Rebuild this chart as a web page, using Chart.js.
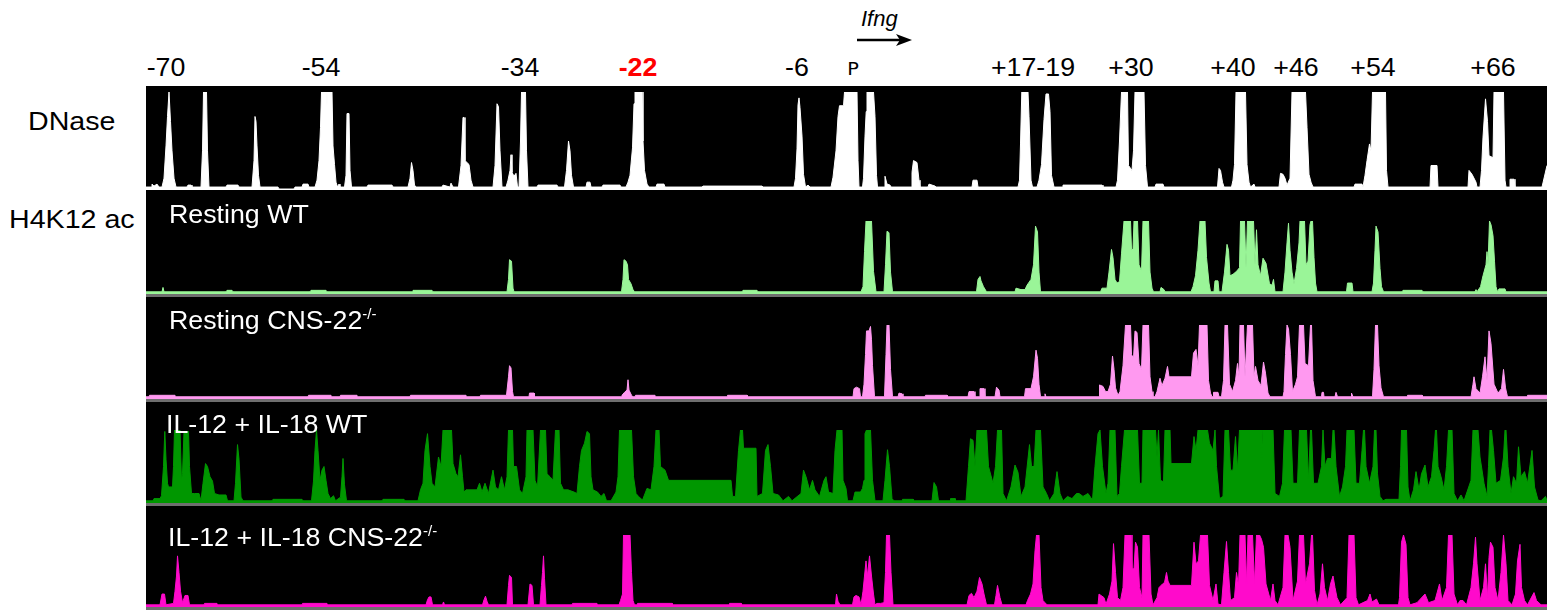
<!DOCTYPE html>
<html>
<head>
<meta charset="utf-8">
<script src="https://cdn.jsdelivr.net/npm/chart.js@4.4.1/dist/chart.umd.min.js"></script>
<style>
  html, body { margin: 0; padding: 0; background: #fff; }
  body { width: 1547px; height: 610px; position: relative; overflow: hidden;
         font-family: "Liberation Sans", Arial, Helvetica, sans-serif; }
  #panel { position: absolute; left: 146px; top: 86px; width: 1401px; height: 524px; background: #000; }
  canvas { position: absolute; left: 146px; }
  .sep { position: absolute; left: 146px; width: 1401px; height: 3px; background: #6e6e6e; }
  .txt { position: absolute; white-space: nowrap; line-height: 1; }
  .el { font-size: 25px; color: #000; transform: translateX(-50%) scaleX(1.07); top: 55px; }
  .trk { font-size: 25px; color: #fff; transform: scaleX(1.07); transform-origin: left center; }
  .side { font-size: 26px; color: #000; transform: scaleX(1.1); transform-origin: left center; }
  sup { font-size: 14px; vertical-align: 10px; line-height: 0; }
</style>
</head>
<body>
<div id="panel"></div>
<canvas id="c-dnase" width="1401" height="98" style="top:92px"></canvas>
<canvas id="c-rwt" width="1401" height="73" style="top:221px"></canvas>
<div class="sep" style="top:294px"></div>
<canvas id="c-rcns" width="1401" height="74" style="top:325px"></canvas>
<div class="sep" style="top:399px"></div>
<canvas id="c-ilwt" width="1401" height="73" style="top:430px"></canvas>
<div class="sep" style="top:503px"></div>
<canvas id="c-ilcns" width="1401" height="72" style="top:535px"></canvas>
<div class="sep" style="top:607px"></div>

<div class="txt side" style="left:28px;top:108px">DNase</div>
<div class="txt side" style="left:9px;top:206px">H4K12 ac</div>
<div class="txt trk" style="left:169px;top:202px">Resting WT</div>
<div class="txt trk" style="left:169px;top:308px">Resting CNS-22<sup>-/-</sup></div>
<div class="txt trk" style="left:166px;top:412px">IL-12 + IL-18 WT</div>
<div class="txt trk" style="left:168px;top:525px">IL-12 + IL-18 CNS-22<sup>-/-</sup></div>

<div class="txt" style="left:861px;top:8px;font-size:22px;font-style:italic">Ifng</div>
<svg style="position:absolute;left:856px;top:33px" width="58" height="14">
  <line x1="1" y1="7" x2="46" y2="7" stroke="#000" stroke-width="2.5"/>
  <polygon points="40,1 56,7 40,13 44,7" fill="#000"/>
</svg>

<script>
// genomic position (kb from Ifng promoter), signal 0..100 (100 = track ceiling)
const dnaseTrack = [
  [-70.6,3],[-70.1,3],[-70.0,6],[-69.8,4],[-69.5,6],[-69.3,3],
  [-69.0,3],[-68.8,12],[-68.6,45],[-68.45,75],[-68.3,100],[-68.15,70],[-68.0,40],[-67.8,12],[-67.6,3],
  [-66.5,3],[-66.4,5],[-66.1,5],[-66.0,3],
  [-65.1,3],[-64.95,40],[-64.85,100],[-64.55,100],[-64.45,40],[-64.3,3],
  [-62.6,3],[-62.5,5],[-61.4,5],[-61.3,3],
  [-60.0,3],[-59.8,30],[-59.7,75],[-59.6,70],[-59.5,45],[-59.35,15],[-59.2,3],
  [-57.4,3],[-57.3,1],[-55.8,1],[-55.7,3],
  [-55.0,3],[-54.9,6],[-54.4,6],[-54.3,3],
  [-53.7,3],[-53.5,10],[-53.3,30],[-53.15,64],[-53.05,100],[-52.55,100],[-52.5,85],[-52.45,100],[-52.0,100],[-51.9,45],[-51.75,26],[-51.6,8],[-51.45,3],[-51.3,6],[-51.2,3],
  [-50.75,3],[-50.6,15],[-50.5,78],[-50.3,78],[-50.2,20],[-50.05,3],
  [-48.5,3],[-48.4,5],[-46.0,5],[-45.9,3],
  [-44.4,3],[-44.2,12],[-44.05,28],[-43.9,20],[-43.75,5],[-43.6,3],
  [-41.0,3],[-40.9,5],[-40.2,3],[-40.1,7],[-39.9,3],
  [-39.35,3],[-39.1,25],[-38.9,74],[-38.8,74],[-38.7,30],[-38.3,26],[-38.1,10],[-37.9,3],
  [-35.9,3],[-35.7,25],[-35.5,88],[-35.35,85],[-35.2,40],[-35.0,3],
  [-34.6,3],[-34.4,10],[-34.2,20],[-34.1,36],[-34.0,18],[-33.8,14],[-33.6,17],[-33.45,3],
  [-33.3,3],[-33.15,50],[-33.05,100],[-32.65,100],[-32.55,40],[-32.4,3],
  [-31.5,3],[-31.4,5],[-29.5,5],[-29.4,3],
  [-28.75,3],[-28.55,20],[-28.35,50],[-28.2,40],[-28.05,15],[-27.85,3],
  [-26.6,3],[-26.5,8],[-26.2,8],[-26.1,3],
  [-25.0,3],[-24.9,5],[-23.2,5],[-23.1,3],
  [-22.6,3],[-22.4,8],[-22.2,15],[-21.95,43],[-21.8,88],[-21.7,100],[-21.0,100],[-20.9,50],[-20.75,20],[-20.5,6],[-20.3,3],
  [-19.6,3],[-19.5,6],[-18.8,6],[-18.7,3],
  [-15.0,3],[-14.9,4],[-9.0,4],[-8.9,3],
  [-5.8,3],[-5.65,12],[-5.5,42],[-5.4,87],[-5.3,94],[-5.2,84],[-5.0,55],[-4.85,16],[-4.65,3],[-4.4,5],[-4.2,3],
  [-2.1,3],[-1.9,13],[-1.6,40],[-1.4,75],[-1.25,86],[-0.85,86],[-0.75,100],[0.5,100],[0.6,30],[0.7,3],
  [1.05,3],[1.15,12],[1.3,55],[1.42,80],[1.5,100],[2.15,100],[2.3,75],[2.45,15],[2.55,3],
  [3.2,3],[3.3,14],[3.5,6],[3.8,5],[3.9,3],
  [5.9,3],[6.0,18],[6.15,30],[6.5,28],[6.7,10],[6.8,3],
  [7.6,3],[7.7,6],[8.3,4],[8.4,3],
  [12.0,3],[12.1,10],[12.5,10],[12.6,3],
  [16.6,3],[16.75,10],[16.85,47],[16.98,100],[17.6,100],[17.7,75],[17.9,10],[18.05,3],
  [18.5,3],[18.7,10],[18.95,26],[19.2,72],[19.4,98],[19.65,98],[19.8,80],[19.95,15],[20.2,3],
  [21.0,3],[21.1,5],[25.0,5],[25.1,3],
  [26.4,3],[26.55,10],[26.75,50],[26.95,100],[27.55,100],[27.65,25],[28.0,20],[28.15,40],[28.3,100],[29.2,100],[29.35,25],[29.55,3],
  [30.3,3],[30.4,6],[31.1,6],[31.2,3],
  [36.55,3],[36.7,22],[36.85,20],[37.05,8],[37.2,3],
  [37.95,3],[38.1,10],[38.25,26],[38.4,100],[39.35,100],[39.5,26],[39.7,8],[39.85,3],[40.2,6],[40.3,3],
  [42.7,3],[42.85,17],[43.1,16],[43.3,12],[43.5,5],[43.6,5],[43.8,12],[44.0,100],[45.35,100],[45.5,64],[45.7,16],[45.9,8],[46.1,3],
  [50.2,3],[50.3,6],[51.0,6],[51.1,3],[51.3,15],[51.5,30],[51.75,47],[51.9,40],[52.05,100],[53.35,100],[53.45,20],[53.6,3],
  [57.8,3],[57.9,25],[58.5,25],[58.6,3],
  [61.6,3],[61.7,20],[62.0,16],[62.4,8],[62.5,3],
  [62.8,3],[62.95,20],[63.1,54],[63.35,93],[63.55,70],[63.7,35],[64.1,33],[64.2,100],[65.15,100],[65.3,10],[65.4,3],
  [65.75,3],[65.8,11],[66.2,11],[66.3,3],
  [69.0,3],[69.5,25]
];

const restingWt = [
  [-70.6,3],[-69.0,3],[-68.9,9],[-68.8,3],
  [-62.6,3],[-62.5,5],[-62.0,5],[-61.9,3],
  [-54.2,3],[-54.1,5],[-52.6,5],[-52.5,3],
  [-44.0,3],[-43.9,5],[-42.0,5],[-41.9,3],
  [-34.5,3],[-34.35,20],[-34.25,47],[-34.05,45],[-33.9,8],[-33.8,3],
  [-23.05,3],[-22.9,20],[-22.8,47],[-22.6,45],[-22.45,40],[-22.35,20],[-22.1,14],[-21.9,6],[-21.75,3],
  [-11.0,3],[-10.9,5],[-9.5,5],[-9.4,3],
  [0.9,3],[1.1,10],[1.25,58],[1.4,100],[1.95,100],[2.15,31],[2.4,3],
  [3.2,3],[3.35,40],[3.5,86],[3.7,84],[3.85,30],[4.05,3],
  [12.45,3],[12.6,20],[12.8,24],[12.9,18],[13.15,10],[13.45,3],
  [16.3,3],[16.4,8],[16.9,6],[17.3,6],[17.5,12],[17.9,20],[18.15,40],[18.35,93],[18.55,85],[18.7,30],[18.85,3],
  [24.85,3],[25.0,8],[25.5,8],[25.7,30],[25.95,61],[26.1,50],[26.3,20],[26.5,15],[26.75,17],[26.95,55],[27.2,100],[27.85,100],[27.95,61],[28.1,61],[28.2,100],[28.55,100],[28.7,40],[28.95,31],[29.1,100],[29.65,100],[29.8,30],[30.0,8],[30.15,3],
  [30.8,3],[30.9,9],[31.2,6],[31.3,3],
  [33.9,3],[34.1,10],[34.35,25],[34.6,60],[34.8,100],[35.3,100],[35.45,50],[35.7,15],[35.85,3],[36.2,3],[36.3,18],[36.6,18],[36.7,3],
  [37.0,3],[37.25,30],[37.5,68],[37.65,60],[37.8,25],[38.1,27],[38.45,31],[38.75,36],[38.85,100],[39.25,100],[39.4,36],[39.55,100],[40.15,100],[40.3,40],[40.45,88],[40.6,40],[40.85,25],[41.1,49],[41.4,42],[41.75,14],[42.0,12],[42.15,20],[42.3,3],
  [43.1,3],[43.3,30],[43.5,70],[43.65,97],[43.8,60],[44.0,30],[44.2,14],[44.45,35],[44.7,70],[44.8,100],[45.25,100],[45.4,40],[45.6,45],[45.8,95],[45.9,100],[46.05,100],[46.2,50],[46.35,15],[46.5,3],
  [49.45,3],[49.55,15],[50.0,15],[50.1,3],
  [52.0,3],[52.15,15],[52.3,60],[52.4,93],[52.6,85],[52.8,35],[52.95,10],[53.15,3],
  [55.0,3],[55.1,5],[57.0,5],[57.1,3],
  [62.3,3],[62.4,6],[62.5,3],[62.85,10],[63.1,25],[63.4,40],[63.5,58],[63.6,40],[63.75,100],[63.9,95],[64.1,80],[64.25,45],[64.4,10],[64.55,3],[64.7,7],[65.3,7],[65.4,3],
  [69.5,3]
];

const restingCns = [
  [-70.6,3],[-70.3,3],[-70.25,5],[-67.7,5],[-67.65,3],
  [-54.4,3],[-54.35,5],[-52.1,5],[-52.05,3],
  [-51.2,3],[-51.15,5],[-49.5,5],[-49.45,3],
  [-44.2,3],[-44.15,5],[-38.6,5],[-38.55,3],
  [-37.2,3],[-37.15,5],[-34.55,5],[-34.35,30],[-34.25,45],[-34.1,42],[-33.95,10],[-33.85,3],
  [-32.3,3],[-32.25,8],[-31.8,8],[-31.75,3],
  [-23.1,3],[-23.0,5],[-22.75,9],[-22.5,12],[-22.4,26],[-22.3,12],[-22.05,5],[-21.9,3],
  [-21.7,3],[-21.65,5],[-19.7,5],[-19.65,3],
  [-12.5,3],[-12.45,5],[-10.5,5],[-10.45,3],
  [0.1,3],[0.2,14],[0.45,16],[0.75,14],[0.85,3],
  [1.05,3],[1.2,20],[1.35,60],[1.45,92],[1.7,92],[1.85,98],[1.95,80],[2.05,45],[2.25,3],
  [3.25,3],[3.4,60],[3.5,100],[3.7,100],[3.85,40],[4.05,3],
  [4.6,3],[4.7,8],[5.0,7],[5.1,3],
  [7.3,3],[7.35,5],[9.5,5],[9.55,3],
  [11.6,3],[11.7,10],[12.2,10],[12.3,3],
  [12.7,3],[12.8,14],[13.2,14],[13.3,3],
  [14.3,3],[14.45,16],[14.7,12],[14.8,3],
  [17.25,3],[17.35,14],[17.9,14],[18.15,30],[18.4,66],[18.55,55],[18.7,20],[18.85,3],
  [19.2,3],[19.3,7],[19.4,3],
  [24.7,3],[24.75,19],[25.1,17],[25.35,10],[25.6,10],[25.85,20],[26.05,58],[26.2,40],[26.35,15],[26.6,5],[26.8,10],[27.1,45],[27.35,100],[27.85,100],[27.95,60],[28.15,55],[28.3,92],[28.5,90],[28.7,48],[28.95,40],[29.1,100],[29.65,100],[29.8,30],[30.0,10],[30.1,3],
  [30.3,3],[30.5,10],[30.8,28],[31.0,18],[31.3,28],[31.55,44],[31.7,30],[33.95,30],[34.15,62],[34.4,67],[34.6,45],[34.75,100],[35.5,100],[35.65,25],[35.85,8],[36.0,3],
  [36.1,3],[36.15,9],[36.6,9],[36.7,3],
  [36.95,3],[37.15,25],[37.3,100],[37.55,100],[37.75,20],[38.05,10],[38.35,25],[38.55,48],[38.7,30],[38.8,100],[39.15,100],[39.3,30],[39.55,100],[40.05,100],[40.2,30],[40.35,44],[40.6,25],[40.9,18],[41.15,50],[41.35,35],[41.6,8],[41.8,3],
  [43.1,3],[43.2,10],[43.35,60],[43.5,100],[43.65,95],[43.85,60],[44.05,10],[44.35,20],[44.55,30],[44.75,100],[45.15,100],[45.3,48],[45.65,45],[45.85,100],[45.95,100],[46.1,25],[46.35,3],
  [46.95,3],[47.0,9],[47.15,9],[47.2,3],[48.3,3],[48.4,9],[48.55,3],[49.9,3],[49.95,8],[50.1,3],
  [52.05,3],[52.2,40],[52.35,100],[52.55,100],[52.7,45],[52.9,15],[53.15,3],
  [55.5,3],[55.55,5],[57.0,5],[57.05,3],
  [61.9,3],[62.1,20],[62.2,30],[62.4,14],[62.8,8],[63.05,30],[63.3,57],[63.5,25],[63.7,92],[63.9,75],[64.2,20],[64.6,8],[64.95,14],[65.15,40],[65.35,15],[65.55,3],
  [67.5,3],[67.55,5],[69.5,5]
];

const il12Wt = [
  [-70.6,3],[-69.9,3],[-69.8,6],[-69.2,6],[-69.05,10],[-68.85,50],[-68.72,98],[-68.6,60],[-68.45,27],[-68.35,22],[-67.95,22],[-67.85,50],[-67.75,100],[-67.2,100],[-67.05,31],[-66.95,40],[-66.8,98],[-66.35,98],[-66.25,50],[-66.05,13],[-65.75,13],[-65.3,13],[-65.1,3],
  [-64.9,27],[-64.65,54],[-64.45,50],[-64.2,36],[-63.95,30],[-63.75,13],[-63.3,11],[-62.6,11],[-62.45,3],
  [-61.8,3],[-61.65,27],[-61.45,80],[-61.3,60],[-61.1,8],[-60.9,3],
  [-58.0,3],[-57.9,5],[-55.0,5],[-54.9,3],
  [-54.05,3],[-53.85,30],[-53.7,72],[-53.55,100],[-53.4,72],[-53.2,31],[-53.0,45],[-52.8,50],[-52.6,31],[-52.4,13],[-52.15,6],[-51.85,10],[-51.65,3],
  [-51.15,8],[-51.0,36],[-50.9,61],[-50.75,25],[-50.55,3],
  [-47.0,3],[-46.9,5],[-44.8,5],[-44.7,3],
  [-43.4,3],[-43.15,18],[-42.9,27],[-42.7,72],[-42.45,95],[-42.2,50],[-42.0,27],[-41.7,22],[-41.35,63],[-41.1,50],[-40.9,100],[-40.05,100],[-39.9,54],[-39.6,40],[-39.4,36],[-39.15,66],[-38.95,36],[-38.8,15],[-38.6,18],[-37.5,18],[-37.25,27],[-37.0,15],[-36.7,27],[-36.35,13],[-36.1,31],[-35.9,45],[-35.65,22],[-35.35,18],[-35.05,36],[-34.75,18],[-34.5,36],[-34.35,100],[-33.95,100],[-33.85,50],[-33.55,50],[-33.25,18],[-32.95,13],[-32.6,36],[-32.5,100],[-31.9,100],[-31.7,31],[-31.45,22],[-31.15,100],[-30.65,100],[-30.5,40],[-30.2,36],[-29.9,31],[-29.65,100],[-29.3,100],[-29.15,27],[-28.85,18],[-28.4,18],[-27.8,15],[-27.5,13],[-27.25,50],[-27.05,72],[-26.75,82],[-26.5,98],[-26.25,95],[-26.1,36],[-25.9,18],[-25.45,15],[-25.1,9],[-24.8,13],[-24.55,3],
  [-24.1,3],[-23.6,15],[-23.4,36],[-23.25,100],[-22.05,100],[-21.85,36],[-21.6,13],[-21.35,9],[-20.95,4],[-20.5,20],[-20.1,18],[-19.8,50],[-19.6,100],[-19.3,100],[-19.15,50],[-18.7,45],[-18.35,31],[-18.2,31],[-12.1,31],[-11.95,9],[-11.65,9],[-11.35,72],[-11.15,100],[-10.95,100],[-10.85,75],[-9.6,75],[-9.5,9],[-8.95,13],[-8.65,72],[-8.4,80],[-8.15,50],[-7.9,13],[-7.35,11],[-6.9,3],[-6.35,9],[-6.0,3],
  [-5.1,13],[-4.85,45],[-4.6,36],[-4.25,18],[-3.95,31],[-3.7,18],[-3.25,9],[-2.8,31],[-2.6,36],[-2.35,15],[-1.9,13],[-1.7,72],[-1.5,100],[-1.0,100],[-0.9,31],[-0.6,20],[-0.45,3],
  [0.1,3],[0.3,15],[0.85,15],[1.05,20],[1.2,31],[1.3,95],[1.45,100],[1.85,100],[2.05,31],[2.3,3],[3.1,3],[3.3,31],[3.55,73],[3.75,50],[4.0,6],[4.2,3],[5.0,3],[5.05,5],[6.1,5],[6.15,3],
  [8.0,3],[8.2,28],[8.45,22],[8.65,3],[9.8,3],[9.85,6],[10.3,6],[10.35,3],
  [11.4,3],[11.65,50],[11.85,88],[12.1,86],[12.3,50],[12.5,100],[13.45,100],[13.65,50],[14.1,27],[14.35,50],[14.55,100],[14.95,100],[15.1,13],[15.45,3],[15.9,22],[16.3,52],[16.6,42],[16.9,9],[17.3,22],[17.75,80],[17.95,50],[18.2,50],[18.4,100],[18.85,100],[19.1,22],[19.45,13],[19.75,3],
  [20.2,13],[20.5,43],[20.8,13],[21.1,3],[21.55,9],[22.0,6],[22.45,13],[22.7,13],[23.1,9],[23.6,13],[24.05,4],
  [24.3,50],[24.6,95],[24.8,100],[25.05,50],[25.4,13],[25.6,27],[25.8,100],[26.3,100],[26.5,9],[26.75,13],[26.95,50],[27.25,100],[28.55,100],[28.75,27],[29.0,27],[29.1,100],[30.35,100],[30.5,63],[30.65,100],[30.85,31],[31.15,29],[31.3,100],[31.8,100],[31.9,54],[33.95,54],[34.2,91],[34.4,72],[34.6,100],[35.55,100],[35.75,82],[36.1,72],[36.3,100],[36.45,50],[36.75,6],[37.1,9],[37.3,100],[37.65,100],[37.85,45],[38.1,45],[38.35,91],[38.55,45],[38.75,100],[40.9,100],[40.95,60],[41.05,100],[42.1,100],[42.3,13],[42.75,9],
  [43.05,27],[43.25,100],[43.9,100],[44.1,27],[44.55,27],[44.75,100],[45.45,100],[45.65,31],[45.85,100],[45.95,100],[46.15,27],[46.6,27],[46.95,50],[47.1,100],[47.3,50],[47.55,61],[47.95,61],[48.1,100],[48.2,100],[48.4,50],[48.75,9],[49.05,22],[49.35,50],[49.5,100],[50.2,100],[50.4,27],[50.75,27],[51.0,72],[51.15,100],[51.25,100],[51.4,50],[51.75,27],[52.1,50],[52.25,100],[52.4,100],[52.55,40],[52.8,9],[53.1,3],[53.4,5],[54.7,5],
  [54.85,50],[54.95,100],[55.45,100],[55.6,22],[55.8,3],[56.15,18],[56.4,43],[56.7,18],[56.95,40],[57.3,52],[57.6,22],[57.95,36],[58.2,72],[58.35,100],[58.45,100],[58.6,50],[58.9,36],[59.2,18],[59.45,50],[59.65,100],[60.0,100],[60.2,13],[60.55,3],[60.9,11],[61.2,3],
  [61.9,31],[62.1,100],[62.6,100],[62.8,63],[63.2,27],[63.5,9],[63.65,50],[63.8,100],[63.95,100],[64.15,72],[64.4,27],[64.85,31],[65.15,63],[65.3,100],[65.4,100],[65.6,50],[65.9,13],[66.15,36],[66.45,27],[66.65,77],[66.9,36],[67.25,43],[67.55,27],[68.0,72],[68.25,22],[68.6,4],[68.9,3],[69.35,9],[69.5,3]
];

const il12Cns = [
  [-70.6,3],[-69.2,3],[-69.0,18],[-68.75,18],[-68.6,3],[-67.85,5],[-67.7,22],[-67.55,43],[-67.45,71],[-67.3,48],[-67.15,22],[-66.95,6],[-66.7,16],[-66.4,16],[-66.25,3],
  [-64.8,3],[-64.75,5],[-63.5,5],[-63.45,3],
  [-55.0,3],[-54.95,5],[-52.5,5],[-52.45,3],
  [-42.6,3],[-42.45,10],[-42.3,14],[-42.1,14],[-41.95,3],[-40.95,3],[-40.85,7],[-40.75,3],
  [-36.95,3],[-36.8,10],[-36.65,15],[-36.5,8],[-36.35,3],
  [-34.5,3],[-34.35,30],[-34.25,44],[-34.05,41],[-33.95,3],
  [-32.4,3],[-32.2,32],[-32.0,30],[-31.85,3],
  [-31.2,3],[-31.05,30],[-30.95,48],[-30.85,71],[-30.75,40],[-30.6,3],
  [-28.0,3],[-27.95,5],[-25.5,5],[-25.45,3],
  [-23.3,3],[-23.15,9],[-22.95,18],[-22.85,100],[-22.2,100],[-22.05,48],[-21.9,9],[-21.75,3],
  [-21.5,3],[-21.45,5],[-18.0,5],[-17.95,3],
  [-12.3,3],[-12.25,5],[-11.1,5],[-11.05,3],
  [-1.65,3],[-1.55,18],[-1.4,8],[-1.2,3],
  [0.05,3],[0.2,14],[0.4,16],[0.7,14],[0.9,3],[1.1,22],[1.25,43],[1.4,64],[1.55,43],[1.75,71],[1.95,43],[2.15,18],[2.3,3],[2.5,5],[2.85,5],[3.2,6],[3.35,48],[3.45,100],[3.75,100],[3.9,48],[4.1,3],
  [11.5,3],[11.7,16],[11.95,19],[12.2,13],[12.5,22],[12.75,41],[13.0,32],[13.2,18],[13.45,3],[14.25,3],[14.4,16],[14.55,30],[14.8,13],[15.0,3],
  [17.4,3],[17.55,9],[17.85,18],[18.1,32],[18.3,78],[18.45,100],[18.7,100],[18.9,27],[19.1,9],[19.3,6],[19.5,3],
  [24.6,3],[24.7,18],[25.2,13],[25.4,4],[25.75,18],[26.0,36],[26.15,88],[26.35,48],[26.55,13],[26.85,9],[27.1,27],[27.3,100],[27.9,100],[28.0,53],[28.2,53],[28.35,90],[28.55,83],[28.75,27],[29.0,13],[29.1,100],[29.7,100],[29.9,18],[30.1,3],
  [30.5,13],[30.7,27],[31.05,32],[31.25,34],[31.45,48],[31.6,36],[31.8,30],[33.95,30],[34.2,90],[34.4,60],[34.65,64],[34.85,100],[35.55,100],[35.75,30],[36.1,9],[36.4,32],[36.6,4],[36.95,3],
  [37.2,48],[37.45,91],[37.65,48],[37.85,9],[38.25,13],[38.45,48],[38.65,30],[38.8,100],[39.3,100],[39.45,32],[39.6,100],[40.05,100],[40.25,32],[40.45,100],[40.75,100],[40.95,94],[41.15,83],[41.4,32],[41.85,9],[42.1,32],[42.3,9],[42.6,3],
  [43.1,27],[43.3,100],[43.6,100],[43.8,83],[44.1,9],[44.55,36],[44.75,100],[45.15,100],[45.35,32],[45.75,60],[45.95,100],[46.05,100],[46.25,23],[46.5,3],
  [46.8,18],[47.05,60],[47.25,27],[47.55,9],[47.85,32],[48.1,43],[48.3,27],[48.5,13],[48.85,3],
  [49.5,13],[49.7,100],[50.2,100],[50.4,13],[50.65,3],[51.55,9],[51.8,18],[52.0,7],[52.45,11],[52.7,3],
  [54.65,3],[54.75,13],[54.95,90],[55.15,100],[55.4,87],[55.6,13],[55.8,3],[56.5,6],[57.3,18],[57.65,6],[58.3,9],[58.75,32],[59.0,9],[59.45,27],[59.65,100],[60.0,100],[60.2,18],[60.55,3],[60.8,9],[61.1,9],[61.45,3],
  [61.9,27],[62.15,60],[62.35,97],[62.5,60],[62.8,9],[63.15,27],[63.35,60],[63.55,13],[63.7,69],[63.85,90],[64.1,83],[64.3,27],[64.6,9],[64.9,48],[65.15,100],[65.4,60],[65.6,9],[66.0,3],
  [66.35,18],[66.55,64],[66.8,87],[66.95,27],[67.25,9],[67.55,3],[68.2,20],[68.45,9],[68.9,3],[69.5,3]
];

// named regulatory elements along the top
const elementLabels = ["-70", "-54", "-34", "-22", "-6", "P", "+17-19", "+30", "+40", "+46", "+54", "+66"];
const elementKb = [-68.6, -53.1, -33.2, -21.4, -5.5, 0.1, 18.1, 27.9, 38.1, 44.4, 52.1, 64.1];

const X_MIN = -70.6;
const X_MAX = 69.5;

function makeTrack(id, points, color) {
  return new Chart(document.getElementById(id), {
    type: "line",
    data: {
      datasets: [{
        data: points.map(([x, y]) => ({ x, y })),
        fill: "origin",
        backgroundColor: color,
        borderColor: color,
        borderWidth: 1,
        pointRadius: 0,
        tension: 0
      }]
    },
    options: {
      responsive: false,
      animation: false,
      events: [],
      layout: { padding: 0 },
      plugins: { legend: { display: false }, tooltip: { enabled: false } },
      scales: {
        x: { type: "linear", min: X_MIN, max: X_MAX, display: false },
        y: { min: 0, max: 100, display: false }
      }
    }
  });
}

const dnaseChart = makeTrack("c-dnase", dnaseTrack, "#ffffff");
makeTrack("c-rwt", restingWt, "#9af598");
makeTrack("c-rcns", restingCns, "#ff99f0");
makeTrack("c-ilwt", il12Wt, "#009700");
makeTrack("c-ilcns", il12Cns, "#ff0acb");

// place element labels with the track's own x scale
const xScale = dnaseChart.scales.x;
elementLabels.forEach((text, i) => {
  const d = document.createElement("div");
  d.className = "txt el";
  d.textContent = text;
  d.style.left = (146 + xScale.getPixelForValue(elementKb[i])) + "px";
  if (text === "-22") {
    d.style.color = "#ff0000";
    d.style.fontWeight = "bold";
  }
  if (text === "P") {
    d.style.fontFamily = "'DejaVu Sans', sans-serif";
    d.style.fontSize = "18px";
    d.style.top = "60px";
  }
  document.body.appendChild(d);
});
</script>
</body>
</html>
